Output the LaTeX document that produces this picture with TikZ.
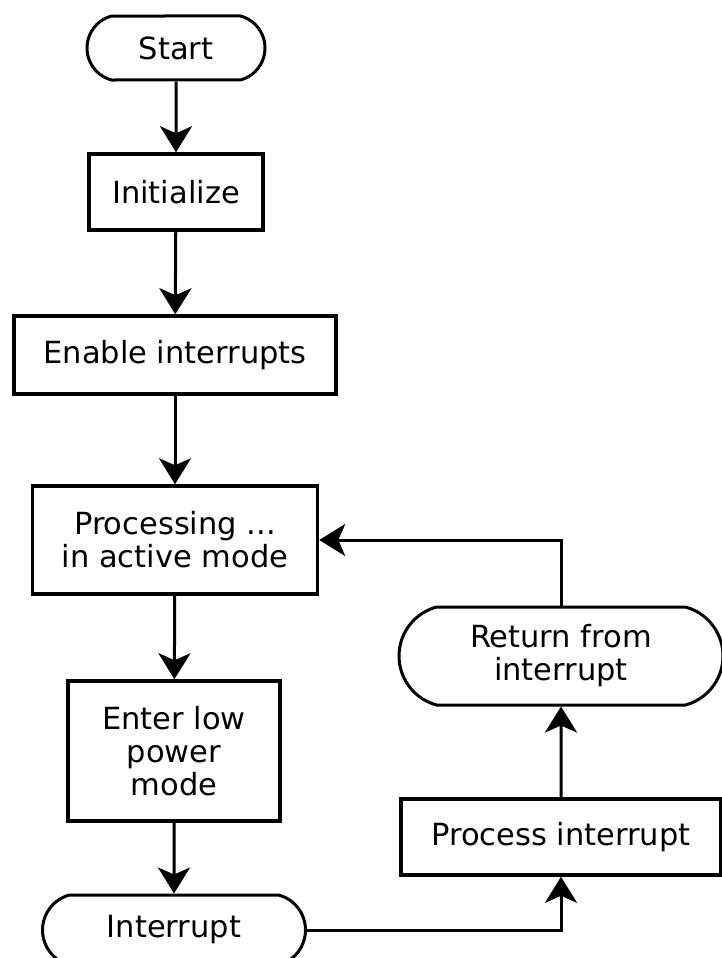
\documentclass[tikz,border=0pt]{standalone}
\usepackage{fontspec}
\setmainfont{DejaVu Sans}
\usetikzlibrary{arrows.meta, shapes.misc}

\begin{document}
\begin{tikzpicture}[x=1pt, y=-1pt,
  process/.style={draw, line width=3.5pt, inner sep=0pt, align=center,
    font=\fontsize{30.5}{33}\selectfont},
  terminal/.style={process, line width=3pt, rounded rectangle,
    rounded rectangle arc length=150},
  flow/.style={-{Stealth[length=26pt, width=32pt, inset=7pt]}, line width=3pt}]

  \useasboundingbox (0,0) rectangle (721,958);

  % main column
  \node[terminal, minimum width=178pt, minimum height=64pt] (start) at (176,48) {Start};
  \node[process, minimum width=174pt, minimum height=76pt] (init) at (176,192) {Initialize};
  \node[process, minimum width=322pt, minimum height=78pt] (enable) at (175,355) {Enable interrupts};
  \node[process, minimum width=285pt, minimum height=108pt] (active) at (175,540) {Processing ...\\in active mode};
  \node[process, minimum width=212pt, minimum height=140pt] (sleep) at (174,751) {Enter low\\power\\mode};
  \node[terminal, minimum width=263pt, minimum height=70pt] (intr) at (174,930) {Interrupt};

  % interrupt branch
  \node[process, minimum width=320pt, minimum height=76pt] (handle) at (561,837) {Process interrupt};
  \node[terminal, minimum width=324pt, minimum height=98pt] (reti) at (561,656) {Return from\\interrupt};

  \draw[flow] (start) -- (init);
  \draw[flow] (init) -- (enable);
  \draw[flow] (enable) -- (active);
  \draw[flow] (active) -- (sleep);
  \draw[flow] (sleep) -- (intr);
  \draw[flow] (intr.east) -| (handle.south);
  \draw[flow] (handle) -- (reti);
  \draw[flow] (reti.north) |- (active.east);

\end{tikzpicture}
\end{document}
